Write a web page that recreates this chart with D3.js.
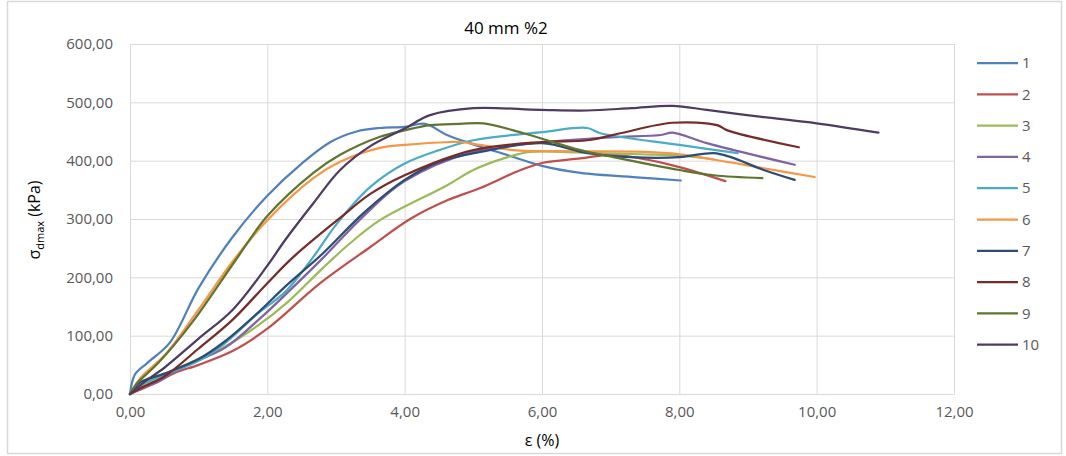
<!DOCTYPE html>
<html>
<head>
<meta charset="utf-8">
<script src="https://cdn.jsdelivr.net/npm/d3@7/dist/d3.min.js"></script>
<style>
  html, body { margin: 0; padding: 0; background: #fff; }
  svg { display: block; }
  text { font-family: "Open Sans", "Liberation Sans", sans-serif; }
</style>
</head>
<body>
<svg id="chart" width="1066" height="456"></svg>
<script>
// Strain ε (%) vs. deviator stress σdmax (kPa), specimens 1–10
const series1 = [[0,0],[0.07,33],[0.25,53],[0.58,88],[1.0,182],[1.5,270],[2.0,340],[2.5,395],[2.92,432],[3.3,450],[3.64,456],[4.0,458],[4.3,463],[4.6,445],[5.0,428],[5.54,408],[6.0,391],[6.56,379],[7.43,371],[8.02,366]];
const series2 = [[0,0],[0.2,10],[0.41,21],[0.65,36],[1.0,50],[1.5,74],[2.0,112],[2.77,190],[3.5,252],[4.08,300],[4.62,332],[5.1,353],[5.69,384],[6.0,396],[6.56,404],[7.0,410],[7.43,404],[8.0,389],[8.67,365]];
const series3 = [[0,0],[0.2,15],[0.5,33],[0.9,55],[1.38,81],[1.87,118],[2.3,158],[2.8,215],[3.2,258],[3.64,298],[4.62,358],[5.0,384],[5.5,406],[5.83,415],[6.5,414],[7.43,411],[8.0,409],[8.5,402]];
const series4 = [[0,0],[0.2,12],[0.41,21],[0.6,35],[0.9,53],[1.38,79],[1.87,127],[2.26,170],[2.8,232],[3.4,305],[4.0,365],[5.0,415],[6.08,432],[7.0,440],[7.73,444],[7.9,448],[8.4,430],[9.68,393]];
const series5 = [[0,0],[0.2,18],[0.5,33],[1.0,57],[1.38,87],[1.87,139],[2.26,175],[2.67,235],[3.0,290],[3.5,355],[4.0,395],[4.5,418],[5.0,435],[6.0,449],[6.66,456],[6.85,447],[8.0,427],[8.85,413]];
const series6 = [[0,0],[0.15,27],[0.53,70],[1.0,145],[1.5,228],[2.0,298],[2.67,370],[3.06,398],[3.64,422],[4.0,427],[4.66,432],[4.81,432],[5.1,427],[5.58,418],[6.5,416],[7.5,415],[8.0,411],[8.5,402],[9.23,387],[9.97,372]];
const series7 = [[0,0],[0.15,20],[0.5,35],[1.0,60],[1.38,90],[1.87,140],[2.26,184],[2.8,240],[3.4,310],[4.0,367],[4.5,398],[5.1,415],[6.0,430],[6.66,413],[7.3,406],[8.0,406],[8.5,413],[8.75,406],[9.23,384],[9.68,367]];
const series8 = [[0,0],[0.15,10],[0.5,30],[1.0,78],[1.5,128],[2.0,190],[2.38,235],[3.06,302],[3.5,343],[4.0,375],[5.0,418],[6.0,432],[6.66,435],[7.14,447],[7.9,465],[8.55,461],[8.7,452],[9.74,423]];
const series9 = [[0,0],[0.1,18],[0.41,53],[0.9,122],[1.53,228],[2.0,305],[2.67,379],[3.06,410],[3.64,441],[4.0,452],[4.37,461],[4.8,463],[5.15,464],[5.73,447],[6.56,418],[7.04,406],[8.0,384],[8.5,375],[9.21,370]];
const series10 = [[0,0],[0.2,20],[0.5,45],[1.0,95],[1.5,145],[2.0,220],[2.26,264],[2.67,327],[3.06,384],[3.5,425],[4.0,455],[4.37,478],[5.0,490],[5.98,487],[6.66,486],[7.3,490],[7.9,494],[8.4,487],[9.2,475],[10.0,464],[10.9,448]];

const seriesNames = ["1","2","3","4","5","6","7","8","9","10"];
const seriesData = [series1,series2,series3,series4,series5,series6,series7,series8,series9,series10];
const seriesColors = ["#4F81BD","#C0504D","#9BBB59","#8064A2","#4BACC6","#F79646","#2C4D75","#772C2A","#5F7530","#4D3B62"];

const xTicks = [0,2,4,6,8,10,12];
const yTicks = [0,100,200,300,400,500,600];
const chartTitle = "40 mm %2";

const svg = d3.select("#chart");
const plot = { left: 130, right: 954, top: 44, bottom: 394 };

// outer chart frame
svg.append("rect")
  .attr("x", 7.5).attr("y", 1.5).attr("width", 1054).attr("height", 452)
  .attr("fill", "#fff").attr("stroke", "#d9d9d9").attr("stroke-width", 1.5);

const x = d3.scaleLinear().domain([0, 12]).range([plot.left, plot.right]);
const y = d3.scaleLinear().domain([0, 600]).range([plot.bottom, plot.top]);
const fmt = v => d3.format(".2f")(v).replace(".", ",");

// gridlines
svg.append("g")
  .attr("transform", `translate(0,${plot.bottom})`)
  .call(d3.axisBottom(x).tickValues(xTicks).tickSize(-(plot.bottom - plot.top)).tickFormat(""))
  .call(g => g.select(".domain").remove())
  .call(g => g.selectAll("line").attr("stroke", "#d9d9d9").attr("stroke-width", 1));
svg.append("g")
  .attr("transform", `translate(${plot.left},0)`)
  .call(d3.axisLeft(y).tickValues(yTicks).tickSize(-(plot.right - plot.left)).tickFormat(""))
  .call(g => g.select(".domain").remove())
  .call(g => g.selectAll("line").attr("stroke", "#d9d9d9").attr("stroke-width", 1));

// tick labels
const xAxis = svg.append("g")
  .attr("transform", `translate(0,${plot.bottom})`)
  .call(d3.axisBottom(x).tickValues(xTicks).tickSize(0).tickPadding(12).tickFormat(fmt));
xAxis.select(".domain").attr("stroke", "#d9d9d9");
xAxis.selectAll("text").attr("fill", "#595959").attr("font-size", 15)
  .style("font-family", "'Open Sans', sans-serif");

const yAxis = svg.append("g")
  .attr("transform", `translate(${plot.left},0)`)
  .call(d3.axisLeft(y).tickValues(yTicks).tickSize(0).tickPadding(17).tickFormat(fmt));
yAxis.select(".domain").remove();
yAxis.selectAll("text").attr("fill", "#595959").attr("font-size", 15)
  .style("font-family", "'Open Sans', sans-serif");

// series lines
const line = d3.line()
  .x(d => x(d[0])).y(d => y(d[1]))
  .curve(d3.curveCatmullRom.alpha(0.5));

const lines = svg.append("g");
seriesData.forEach((data, i) => {
  lines.append("path")
    .datum(data)
    .attr("d", line)
    .attr("fill", "none")
    .attr("stroke", seriesColors[i])
    .attr("stroke-width", 2.25)
    .attr("stroke-linejoin", "round")
    .attr("stroke-linecap", "round");
});

// title
svg.append("text")
  .attr("x", 506).attr("y", 34)
  .attr("text-anchor", "middle")
  .attr("font-size", 17).attr("fill", "#000")
  .text(chartTitle);

// axis titles
svg.append("text")
  .attr("x", 542).attr("y", 446)
  .attr("text-anchor", "middle")
  .attr("font-size", 16).attr("fill", "#000")
  .text("ε (%)");

const yTitle = svg.append("text")
  .attr("transform", `translate(40,220) rotate(-90)`)
  .attr("text-anchor", "middle")
  .attr("font-size", 16).attr("fill", "#000");
yTitle.append("tspan").text("σ");
yTitle.append("tspan").attr("font-size", 11).attr("dy", 4).text("dmax");
yTitle.append("tspan").attr("dy", -4).text(" (kPa)");

// legend
const legend = svg.append("g");
seriesNames.forEach((name, i) => {
  const ly = 63 + i * 31.3;
  legend.append("line")
    .attr("x1", 977).attr("x2", 1018).attr("y1", ly).attr("y2", ly)
    .attr("stroke", seriesColors[i]).attr("stroke-width", 2.25);
  legend.append("text")
    .attr("x", 1022).attr("y", ly).attr("dy", "0.35em")
    .attr("font-size", 15).attr("fill", "#595959")
    .text(name);
});
</script>
</body>
</html>
